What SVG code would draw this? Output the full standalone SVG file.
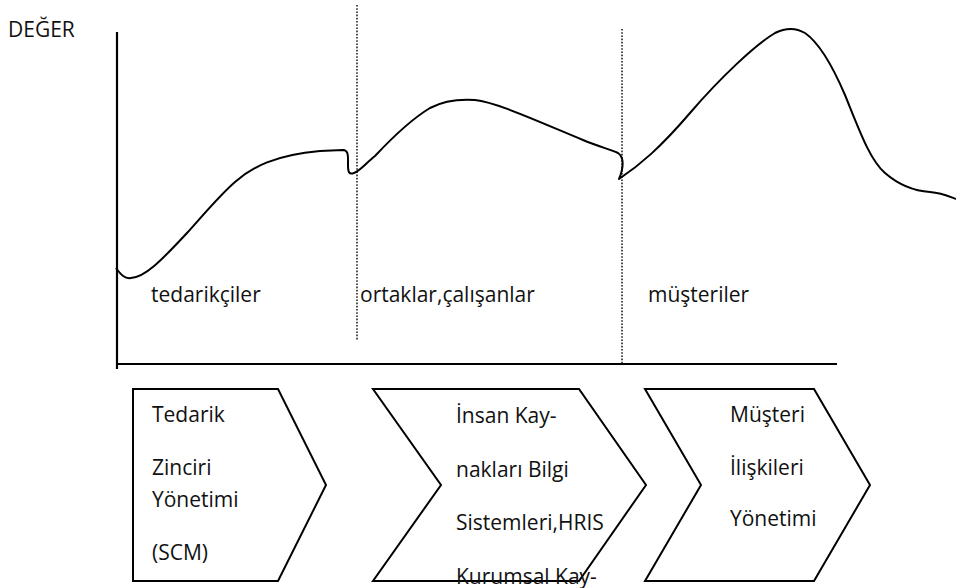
<svg xmlns="http://www.w3.org/2000/svg" width="956" height="588" viewBox="0 0 956 588">
<style>
text{font-family:"Open Sans","Noto Sans","DejaVu Sans",sans-serif;font-size:21px;fill:#111}
.ax{stroke:#000;stroke-width:2.2;fill:none}
.dot{stroke:#222;stroke-width:1.6;stroke-dasharray:1.6 1.6;fill:none}
.curve{stroke:#000;stroke-width:2;fill:none;stroke-linejoin:round}
.box{stroke:#000;stroke-width:2;fill:#fff}
</style>
<rect width="956" height="588" fill="#fff"/>
<g id="chart">
<text x="8" y="37">DEĞER</text>
<line class="ax" x1="117" y1="32" x2="117" y2="369"/>
<line class="ax" x1="116" y1="364" x2="837" y2="364"/>
<line class="dot" x1="357" y1="5" x2="357" y2="341"/>
<line class="dot" x1="622" y1="29" x2="622" y2="364"/>
<path class="curve" d="M116,268 C121,275 125,279 131,278 C145,277 160,262 187,233 C205,213 220,195 235,182 C252,167 275,155 320,151 L343,150 C349,150 348,158 348,165 C348,172 349,175 354,173 C360,171 366,163 375,156 C390,140 410,120 430,108 C445,100 460,99 475,100 C495,102 530,118 583,140 C600,147 612,150 618,153 C624,157 624,167 619,179 C640,165 660,148 690,113 C720,78 755,45 775,33 C785,28 795,27 805,33 C818,42 830,60 845,95 C860,132 870,160 885,173 C900,186 915,191 930,192 C942,193 948,196 956,199"/>
<text x="151" y="302">tedarikçiler</text>
<text x="360" y="302">ortaklar,çalışanlar</text>
<text x="648" y="302">müşteriler</text>
</g>
<g id="scm">
<path class="box" d="M133,389 L278,389 L326,485 L278,581 L133,581 Z"/>
<text x="152" y="422">Tedarik</text>
<text x="152" y="475">Zinciri</text>
<text x="152" y="507">Yönetimi</text>
<text x="152" y="560">(SCM)</text>
</g>
<g id="hris">
<path class="box" d="M373,389 L579,389 L646,485 L579,581 L373,581 L441,485 Z"/>
<text x="456" y="423">İnsan Kay-</text>
<text x="456" y="477">nakları Bilgi</text>
<text x="456" y="530">Sistemleri,HRIS</text>
<text x="456" y="584">Kurumsal Kay-</text>
</g>
<g id="crm">
<path class="box" d="M645,389 L814,389 L870,485 L814,581 L645,581 L701,485 Z"/>
<text x="730" y="422">Müşteri</text>
<text x="730" y="475">İlişkileri</text>
<text x="730" y="526">Yönetimi</text>
</g>
<g id="connectors"></g>
</svg>
